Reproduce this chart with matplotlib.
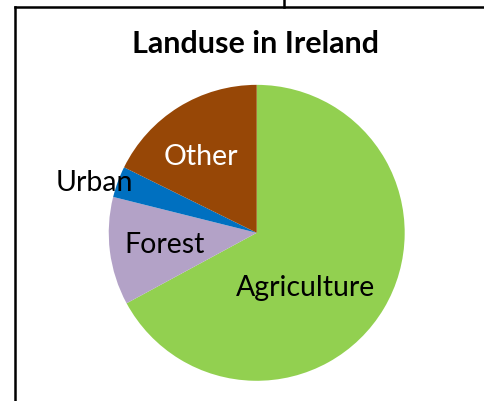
import matplotlib
matplotlib.use('Agg')
import matplotlib.pyplot as plt
from matplotlib.lines import Line2D

# land use shares (percent)
categories = ['Agriculture', 'Forest', 'Urban', 'Other']
shares = [67.1, 11.8, 3.4, 17.7]
colors = ['#92D050', '#B3A2C7', '#0070C0', '#974706']
label_colors = ['black', 'black', 'black', 'white']
# label positions in pie units (radius = 1)
label_pos = [(0.33, -0.37), (-0.62, -0.08), (-1.10, 0.34), (-0.38, 0.51)]

plt.rcParams['font.family'] = ['Lato', 'DejaVu Sans']

fig = plt.figure(figsize=(4.84, 4.01), dpi=100)
fig.patch.set_facecolor('white')

# chart frame (spreadsheet cell borders)
fig.add_artist(Line2D([15/484, 15/484], [0, 1 - 7/401], color='black', lw=1.8))
fig.add_artist(Line2D([15/484, 1], [1 - 7/401, 1 - 7/401], color='black', lw=1.8))
fig.add_artist(Line2D([283.5/484, 283.5/484], [1 - 7/401, 1], color='black', lw=1.8))

ax = fig.add_axes([0.2246, 0.0504, 0.6116, 0.738])
ax.pie(shares, colors=colors, startangle=90, counterclock=False,
       radius=1, wedgeprops=dict(linewidth=0))
ax.set_xlim(-1, 1)
ax.set_ylim(-1, 1)
ax.set_aspect('equal')
ax.axis('off')

for name, (lx, ly), c in zip(categories, label_pos, label_colors):
    ax.text(lx, ly, name, ha='center', va='center', fontsize=20.5, color=c)

fig.text(256/484, 1 - 44/401, 'Landuse in Ireland', ha='center', va='center',
         fontsize=22, fontweight='bold')

fig.savefig('out.png', dpi=100)
